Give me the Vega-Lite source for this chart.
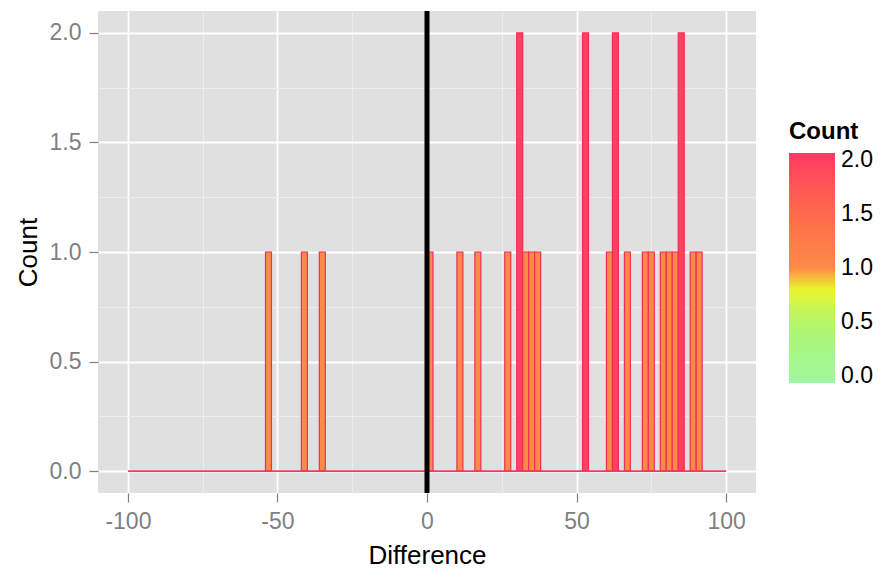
{
  "$schema": "https://vega.github.io/schema/vega-lite/v6.json",
  "width": 658,
  "height": 482,
  "autosize": {"type": "none"},
  "padding": {"left": 98, "top": 11, "right": 133, "bottom": 87},
  "background": "white",
  "config": {
    "font": "Liberation Sans",
    "view": {"fill": "#E0E0E0", "stroke": null}
  },
  "datasets": {
    "bins": [
      {"start": -54, "end": -52, "count": 1},
      {"start": -42, "end": -40, "count": 1},
      {"start": -36, "end": -34, "count": 1},
      {"start": 0, "end": 2, "count": 1},
      {"start": 10, "end": 12, "count": 1},
      {"start": 16, "end": 18, "count": 1},
      {"start": 26, "end": 28, "count": 1},
      {"start": 30, "end": 32, "count": 2},
      {"start": 32, "end": 34, "count": 1},
      {"start": 34, "end": 36, "count": 1},
      {"start": 36, "end": 38, "count": 1},
      {"start": 52, "end": 54, "count": 2},
      {"start": 60, "end": 62, "count": 1},
      {"start": 62, "end": 64, "count": 2},
      {"start": 66, "end": 68, "count": 1},
      {"start": 72, "end": 74, "count": 1},
      {"start": 74, "end": 76, "count": 1},
      {"start": 78, "end": 80, "count": 1},
      {"start": 80, "end": 82, "count": 1},
      {"start": 82, "end": 84, "count": 1},
      {"start": 84, "end": 86, "count": 2},
      {"start": 88, "end": 90, "count": 1},
      {"start": 90, "end": 92, "count": 1}
    ],
    "baseline": [{"from": -100, "to": 100, "level": 0}],
    "zeroline": [{"position": 0}]
  },
  "layer": [
    {
      "data": {"name": "bins"},
      "mark": {"type": "bar", "stroke": "#EE2E5A", "strokeWidth": 1.2},
      "encoding": {
        "x": {
          "field": "start", "type": "quantitative",
          "scale": {"domain": [-110, 110], "nice": false, "zero": false},
          "axis": {
            "title": "Difference",
            "values": [-100, -75, -50, -25, 0, 25, 50, 75, 100],
            "labelExpr": "datum.value % 50 === 0 ? '' + datum.value : ''",
            "domain": false,
            "gridColor": {"condition": {"test": "datum.value % 50 !== 0", "value": "#EDEDED"}, "value": "#FFFFFF"},
            "gridWidth": {"condition": {"test": "datum.value % 50 !== 0", "value": 1}, "value": 1.8},
            "tickOpacity": {"condition": {"test": "datum.value % 50 !== 0", "value": 0}, "value": 1},
            "tickColor": "#7F7F7F",
            "tickSize": 9,
            "tickWidth": 1.2,
            "labelColor": "#7F7F7F",
            "labelFontSize": 23,
            "labelPadding": 8,
            "titleFontSize": 26,
            "titleFontWeight": "normal",
            "titleColor": "#000000",
            "titlePadding": 9
          }
        },
        "x2": {"field": "end"},
        "y": {
          "field": "count", "type": "quantitative",
          "scale": {"domain": [-0.1, 2.1], "nice": false, "zero": false},
          "axis": {
            "title": "Count",
            "values": [0, 0.25, 0.5, 0.75, 1, 1.25, 1.5, 1.75, 2],
            "labelExpr": "datum.value % 0.5 === 0 ? format(datum.value, '.1f') : ''",
            "domain": false,
            "gridColor": {"condition": {"test": "datum.value % 0.5 !== 0", "value": "#EDEDED"}, "value": "#FFFFFF"},
            "gridWidth": {"condition": {"test": "datum.value % 0.5 !== 0", "value": 1}, "value": 1.8},
            "tickOpacity": {"condition": {"test": "datum.value % 0.5 !== 0", "value": 0}, "value": 1},
            "tickColor": "#7F7F7F",
            "tickSize": 9,
            "tickWidth": 1.2,
            "labelColor": "#7F7F7F",
            "labelFontSize": 23,
            "labelPadding": 8,
            "titleFontSize": 26,
            "titleFontWeight": "normal",
            "titleColor": "#000000",
            "titlePadding": 8
          }
        },
        "y2": {"datum": 0},
        "fill": {
          "field": "count", "type": "quantitative",
          "scale": {
            "domain": [-0.065, 0.5, 0.85, 1, 1.5, 2.065],
            "range": ["#A0F7A0", "#B2F56A", "#F4F51E", "#FF8A48", "#FF6A4C", "#FF3A64"]
          },
          "legend": {
            "title": "Count",
            "orient": "none",
            "legendX": 691,
            "legendY": 109,
            "direction": "vertical",
            "gradientLength": 230,
            "gradientThickness": 46,
            "gradientStrokeWidth": 0,
            "values": [0, 0.5, 1, 1.5, 2],
            "format": ".1f",
            "labelFontSize": 23,
            "labelColor": "#000000",
            "labelOffset": 6,
            "titleFontSize": 24,
            "titleFontWeight": "bold",
            "titleColor": "#000000",
            "titlePadding": 9
          }
        }
      }
    },
    {
      "data": {"name": "baseline"},
      "mark": {"type": "rule", "color": "#FF3366", "strokeWidth": 1.8},
      "encoding": {
        "x": {"field": "from", "type": "quantitative"},
        "x2": {"field": "to"},
        "y": {"field": "level", "type": "quantitative"}
      }
    },
    {
      "data": {"name": "zeroline"},
      "mark": {"type": "rule", "color": "#000000", "strokeWidth": 5},
      "encoding": {
        "x": {"field": "position", "type": "quantitative"}
      }
    }
  ]
}
